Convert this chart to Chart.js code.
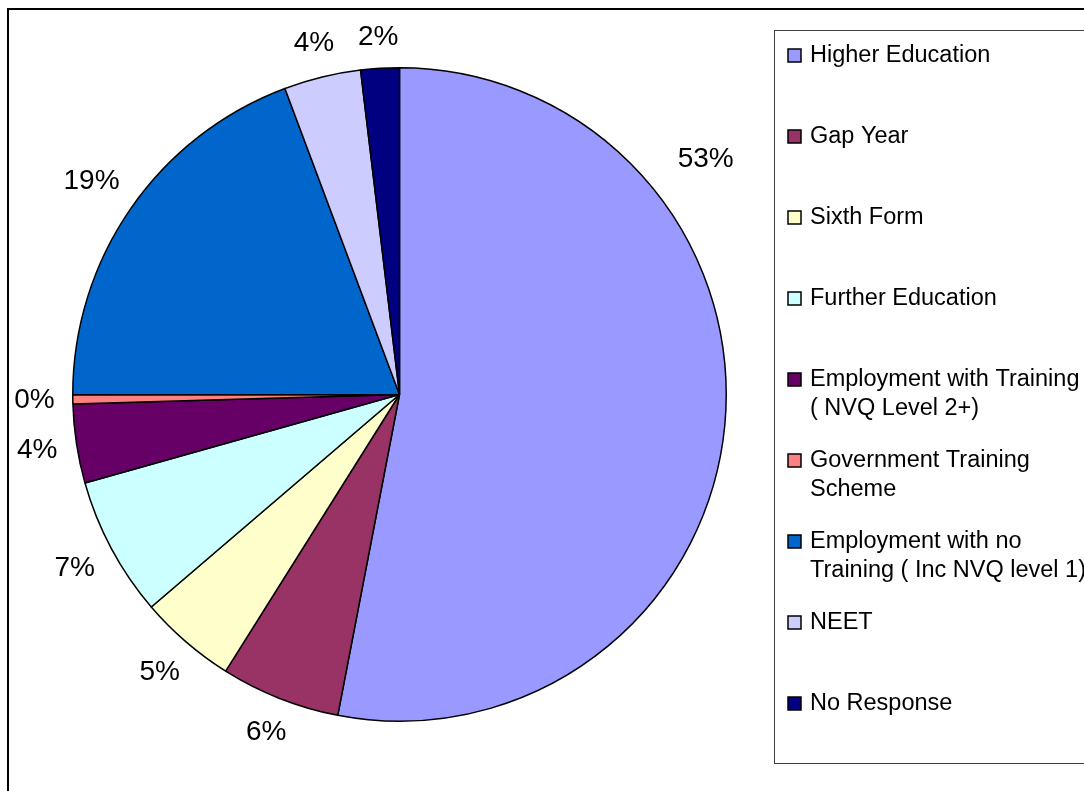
<!DOCTYPE html>
<html>
<head>
<meta charset="utf-8">
<script src="https://cdn.jsdelivr.net/npm/chart.js@4"></script>
<style>
  html, body { margin: 0; padding: 0; background: #fff; }
  canvas { display: block; }
</style>
</head>
<body>
<canvas id="pie" width="1084" height="791"></canvas>
<script>
// categories (multi-line labels as arrays)
const categories = [
  ['Higher Education'],
  ['Gap Year'],
  ['Sixth Form'],
  ['Further Education'],
  ['Employment with Training', '( NVQ Level 2+)'],
  ['Government Training', 'Scheme'],
  ['Employment with no', 'Training ( Inc NVQ level 1)'],
  ['NEET'],
  ['No Response']
];
// share of leavers, percent
const shares = [53.0, 5.9, 4.8, 6.9, 3.9, 0.45, 19.3, 3.8, 1.9];
const colours = ['#9999FF', '#993366', '#FFFFCC', '#CCFFFF', '#660066', '#FF8080', '#0066CC', '#CCCCFF', '#000080'];

const FONT = '"Liberation Sans", Arial, sans-serif';

// frame + legend box + legend entries
const framePlugin = {
  id: 'frame',
  beforeDraw(chart) {
    const ctx = chart.ctx;
    ctx.save();
    ctx.fillStyle = '#fff';
    ctx.fillRect(0, 0, chart.width, chart.height);
    ctx.strokeStyle = '#000';
    ctx.lineWidth = 2;
    ctx.strokeRect(8, 9, chart.width, chart.height);
    ctx.restore();
  },
  afterDraw(chart) {
    const ctx = chart.ctx;
    ctx.save();
    // legend box
    ctx.strokeStyle = '#404040';
    ctx.lineWidth = 1;
    ctx.strokeRect(774.5, 30.5, 400, 733);
    ctx.font = '23.5px ' + FONT;
    ctx.textBaseline = 'middle';
    categories.forEach((lines, i) => {
      const y = 56 + i * 81;
      ctx.fillStyle = colours[i];
      ctx.fillRect(788, y - 7, 13, 13);
      ctx.strokeStyle = '#000';
      ctx.lineWidth = 1.5;
      ctx.strokeRect(788, y - 7, 13, 13);
      ctx.fillStyle = '#000';
      lines.forEach((t, j) => ctx.fillText(t, 810, y + j * 29));
    });
    ctx.restore();
  }
};

// percentage labels outside each slice
const pctLabels = {
  id: 'pctLabels',
  afterDatasetsDraw(chart) {
    const ctx = chart.ctx;
    const meta = chart.getDatasetMeta(0);
    const total = shares.reduce((a, b) => a + b, 0);
    const area = chart.chartArea;
    ctx.save();
    ctx.font = '28px ' + FONT;
    ctx.fillStyle = '#000';
    ctx.textAlign = 'center';
    ctx.textBaseline = 'middle';
    meta.data.forEach((arc, i) => {
      const txt = Math.round(shares[i] / total * 100) + '%';
      const hw = ctx.measureText(txt).width / 2;
      const hh = 12;
      let a = (arc.startAngle + arc.endAngle) / 2;
      let x, y, gap = 18;
      for (let k = 0; k < 200; k++) {
        const c = Math.cos(a), s = Math.sin(a);
        const d = arc.outerRadius + gap + hw * Math.abs(c) + hh * Math.abs(s);
        x = arc.x + d * c;
        y = arc.y + d * s;
        // keep clear of the legend: slide the label round the rim
        if (x + hw <= area.right + 8) break;
        a -= Math.PI / 360;
        gap = 30;
      }
      ctx.fillText(txt, x, y);
    });
    ctx.restore();
  }
};

new Chart(document.getElementById('pie'), {
  type: 'pie',
  data: {
    labels: categories,
    datasets: [{
      data: shares,
      backgroundColor: colours,
      borderColor: '#000',
      borderWidth: 1.5
    }]
  },
  options: {
    responsive: false,
    animation: false,
    layout: { padding: { left: 72, right: 357, top: 67, bottom: 69 } },
    plugins: {
      legend: { display: false },
      tooltip: { enabled: false }
    }
  },
  plugins: [framePlugin, pctLabels]
});
</script>
</body>
</html>
